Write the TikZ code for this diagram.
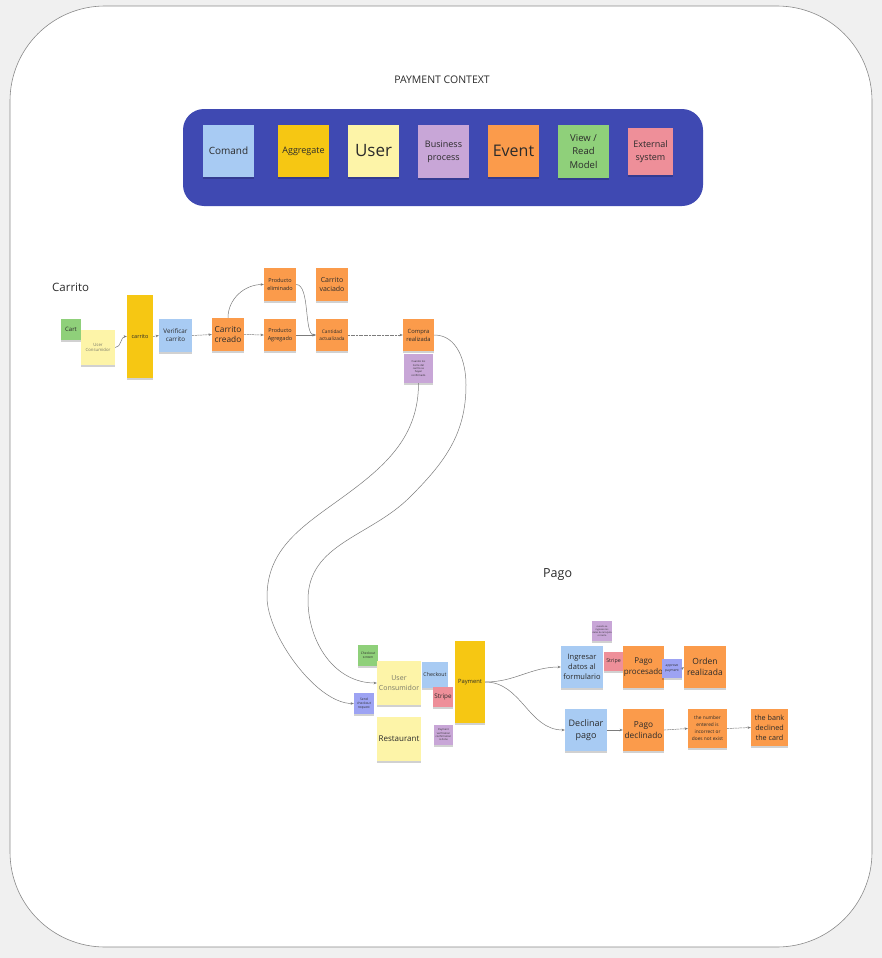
\documentclass[tikz,border=0pt]{standalone}
\usepackage{fontspec}
\setmainfont{Open Sans}
\usetikzlibrary{arrows.meta,shadows}

\definecolor{pagebg}{HTML}{F0F0F0}
\definecolor{framegray}{HTML}{8A8A8A}
\definecolor{panelblue}{HTML}{3F49B2}
\definecolor{ccmd}{HTML}{A8CBF3}
\definecolor{cagg}{HTML}{F6C713}
\definecolor{cuser}{HTML}{FDF4A8}
\definecolor{cbp}{HTML}{C8A6D7}
\definecolor{cevent}{HTML}{FB9B4B}
\definecolor{cview}{HTML}{8FD07A}
\definecolor{cext}{HTML}{EE8F99}
\definecolor{cviolet}{HTML}{9DA3F3}
\definecolor{txt}{HTML}{2B2B2B}
\definecolor{txtsoft}{HTML}{7A7A6A}
\definecolor{linegray}{HTML}{7C7C7C}

\newcommand\fsz[2]{\fontsize{#1}{#2}\selectfont}

% coordinates grow downwards; out/in angles of curves keep the usual sense (90 = up)
\tikzset{
  sticky/.style={draw=none, inner sep=0.5pt, align=center, text=txt,
    drop shadow={shadow xshift=0.3pt, shadow yshift=-1.6pt, opacity=0.18, fill=black}},
  wh/.style 2 args={minimum width=#1pt, minimum height=#2pt},
  conn/.style={draw=linegray, line width=0.5pt, -{Stealth[length=3.2pt,width=2.6pt]}},
  dconn/.style={conn, dash pattern=on 2pt off 0.6pt},
  caption/.style={text=txt, inner sep=0pt}
}

\begin{document}
\begin{tikzpicture}[x=1pt,y=-1pt]
\useasboundingbox (0,0) rectangle (882,958);

% page and board frame
\fill[pagebg] (0,0) rectangle (882,958);
\draw[framegray, line width=0.6pt, fill=white, rounded corners=95pt] (10,6) rectangle (872,947);

% ---------------- legend ----------------
\node[caption, font=\fsz{10.5}{12}] (title) at (442,80) {PAYMENT CONTEXT};
\fill[panelblue, rounded corners=21pt] (183,109) rectangle (703,206);

\node[sticky, fill=ccmd,  wh={51}{52}, font=\fsz{10}{12}] (lgcmd)   at (228.5,151) {Comand};
\node[sticky, fill=cagg,  wh={51}{52}, font=\fsz{9}{11}]  (lgagg)   at (303.5,151) {Aggregate};
\node[sticky, fill=cuser, wh={51}{52}, font=\fsz{17}{20}] (lguser)  at (373.5,151) {User};
\node[sticky, fill=cbp,   wh={51}{53}, font=\fsz{9}{13}]  (lgbp)    at (443.5,151.5) {Business\\process};
\node[sticky, fill=cevent,wh={51}{52}, font=\fsz{16}{19}] (lgevent) at (513.5,151) {Event};
\node[sticky, fill=cview, wh={51}{53}, font=\fsz{9.5}{13.5}] (lgview) at (583.5,151.5) {View /\\Read\\Model};
\node[sticky, fill=cext,  wh={45}{47}, font=\fsz{9}{13}]  (lgext)   at (650.5,151.5) {External\\system};

% ---------------- Carrito ----------------
\node[caption, font=\fsz{11.5}{13}, anchor=west] (lblcarrito) at (52,287) {Carrito};

\node[sticky, fill=cview,  wh={20}{21}, font=\fsz{6}{7}] (cart) at (71,329.5) {Cart};
\node[sticky, fill=cuser,  wh={34}{35}, font=\fsz{4.3}{5.5}, text=txtsoft] (ucA) at (98,347.5) {User\\Consumidor};
\node[sticky, fill=cagg,   wh={26}{83}, font=\fsz{5.5}{7}] (carrito) at (140,336.5) {carrito};
\node[sticky, fill=ccmd,   wh={33}{33}, font=\fsz{6.3}{8}] (verificar) at (175.5,335.5) {Verificar\\carrito};
\node[sticky, fill=cevent, wh={32}{33}, font=\fsz{8.3}{10.5}] (creado) at (228,334.5) {Carrito\\creado};
\node[sticky, fill=cevent, wh={32}{33}, font=\fsz{5.5}{7.5}] (eliminado) at (280,284.5) {Producto\\eliminado};
\node[sticky, fill=cevent, wh={32}{33}, font=\fsz{7}{9}] (vaciado) at (332,284.5) {Carrito\\vaciado};
\node[sticky, fill=cevent, wh={32}{32}, font=\fsz{5.5}{7.5}] (agregado) at (280,335) {Producto\\Agregado};
\node[sticky, fill=cevent, wh={32}{32}, font=\fsz{4.8}{7}] (cantidad) at (332,335) {Cantidad\\actualizada};
\node[sticky, fill=cevent, wh={31}{32}, font=\fsz{5.8}{8}] (compra) at (418.5,335) {Compra\\realizada};
\node[sticky, fill=cbp,    wh={29}{29}, font=\fsz{2.6}{3.4}] (bpA) at (418.5,368.5) {Cuando los\\items del\\carrito se\\hayan\\confirmado};

\draw[conn] (ucA.east) to[out=0,in=180] (carrito.west);
\draw[dconn] (carrito.east) -- (verificar.west);
\draw[dconn] (verificar.east) -- (creado.west);
\draw[dconn] (creado.east) -- (agregado.west);
\draw[conn] (agregado.east) -- (cantidad.west);
\draw[dconn] (cantidad.east) -- (compra.west);
\draw[conn] (creado.north) to[out=90,in=180] (eliminado.west);
\draw[conn] (eliminado.east) .. controls +(14,0) and +(-12,0) .. (cantidad.west);

% ---------------- Pago ----------------
\node[caption, font=\fsz{12.5}{14}, anchor=west] (lblpago) at (543,575) {Pago};

\node[sticky, fill=cview,   wh={20}{21}, font=\fsz{3.3}{4.2}] (screen) at (368,655.5) {Checkout\\screen};
\node[sticky, fill=cuser,   wh={44}{44}, font=\fsz{7}{9.5}, text=txtsoft] (ucB) at (399,683) {User\\Consumidor};
\node[sticky, fill=ccmd,    wh={26}{26}, font=\fsz{5.3}{7}] (checkout) at (435,675) {Checkout};
\node[sticky, fill=cext,    wh={20}{20}, font=\fsz{6.3}{8}] (stripeA) at (443,697) {Stripe};
\node[sticky, fill=cagg,    wh={30}{82}, font=\fsz{5.8}{7}] (payment) at (470,682) {Payment};
\node[sticky, fill=cviolet, wh={20}{21}, font=\fsz{3.3}{4.2}] (send) at (364,703.5) {Send\\checkout\\request};
\node[sticky, fill=cuser,   wh={44}{44}, font=\fsz{8}{10}] (restaurant) at (399,739) {Restaurant};
\node[sticky, fill=cbp,     wh={19}{20}, font=\fsz{2.6}{3.3}] (verif) at (443.5,735) {Payment\\verification\\confirmation\\is done};

\node[sticky, fill=cbp,     wh={20}{20}, font=\fsz{2.3}{3.2}] (bpB) at (602,631) {cuando se\\ingresan los\\datos de la tarjeta\\correcta};
\node[sticky, fill=ccmd,    wh={42}{42}, font=\fsz{7.5}{10}] (ingresar) at (582,667) {Ingresar\\datos al\\formulario};
\node[sticky, fill=cext,    wh={19}{19}, font=\fsz{5.3}{7}] (stripeB) at (613.5,661.5) {Stripe};
\node[sticky, fill=cevent,  wh={41}{42}, font=\fsz{8}{10.5}] (procesado) at (643.5,667) {Pago\\procesado};
\node[sticky, fill=cviolet, wh={20}{19}, font=\fsz{3.3}{4.3}] (approve) at (672,668.5) {approve\\payment};
\node[sticky, fill=cevent,  wh={42}{42}, font=\fsz{8.5}{11.5}] (orden) at (705,667) {Orden\\realizada};
\node[sticky, fill=ccmd,    wh={42}{42}, font=\fsz{9}{12}] (declinar) at (586,730) {Declinar\\pago};
\node[sticky, fill=cevent,  wh={41}{42}, font=\fsz{8.3}{10.5}] (declinado) at (643.5,730) {Pago\\declinado};
\node[sticky, fill=cevent,  wh={39}{39}, font=\fsz{4.8}{7}] (number) at (707.5,728.5) {the number\\entered is\\incorrect or\\does not exist};
\node[sticky, fill=cevent,  wh={37}{37}, font=\fsz{7.2}{10}] (bank) at (769.5,727.5) {the bank\\declined\\the card};

\draw[conn] (payment.east) to[out=0,in=180] (ingresar.west);
\draw[conn] (payment.east) to[out=0,in=180] (declinar.west);
\draw[conn] (declinar.east) -- (declinado.west);
\draw[dconn] (declinado.east) -- (number.west);
\draw[dconn] (number.east) -- (bank.west);
\draw[conn] (approve.east) -- (orden.west);

% ---------------- long links from the cart flow down to checkout ----------------
\coordinate (a1) at (343,497);
\coordinate (a2) at (267,597);
\coordinate (b1) at (466,385);
\coordinate (b2) at (410,497);
\coordinate (b3) at (308,600);
\draw[conn] (bpA.south) to[out=-90,in=36] (a1) to[out=-144,in=90] (a2)
  to[out=-90,in=180,looseness=0.7] (send.west);
\draw[conn] (compra.east) to[out=0,in=90] (b1) to[out=-90,in=45] (b2)
  to[out=-135,in=90] (b3) to[out=-90,in=180] (ucB.west);
\end{tikzpicture}
\end{document}
